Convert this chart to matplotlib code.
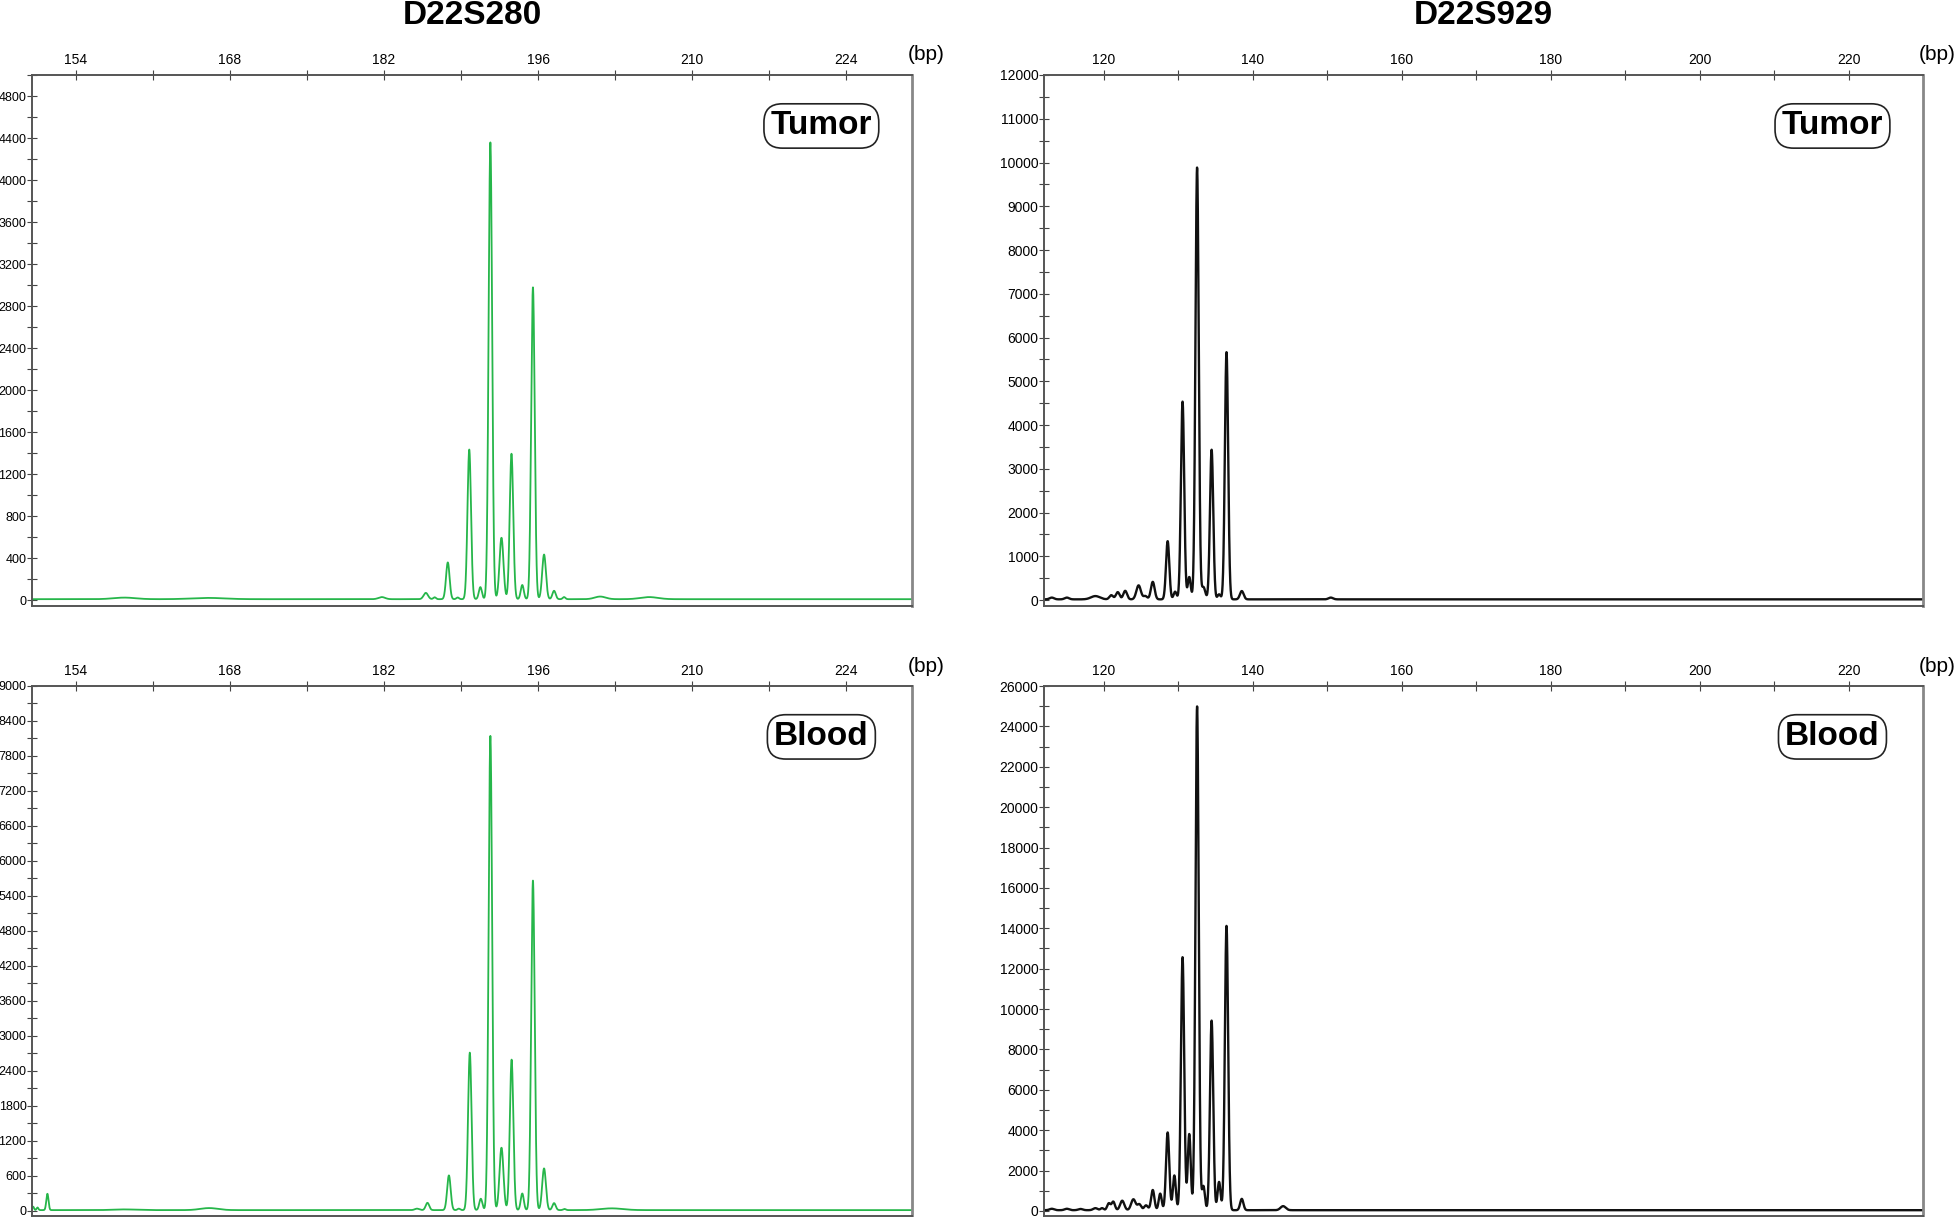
import numpy as np
import matplotlib
matplotlib.use('Agg')
import matplotlib.pyplot as plt
from matplotlib.ticker import MultipleLocator

plt.rcParams['font.family'] = ['Liberation Sans', 'DejaVu Sans']

# peak positions (bp), heights (RFU), widths (bp)
# D22S280 tumor
tl_pos = [158.4, 166.0, 181.8, 185.8, 186.6, 187.8, 188.7, 189.75, 190.76, 191.67, 192.68,
          193.59, 194.57, 195.54, 196.55, 197.46, 198.37, 201.65, 206.1]
tl_hgt = [15, 12, 20, 60, 18, 350, 16, 1425, 115, 4350, 585, 1385, 135, 2970, 425, 80, 20, 25, 20]
tl_wid = [1.0, 1.5, 0.3, 0.2, 0.12, 0.16, 0.12, 0.16, 0.14, 0.16, 0.18,
          0.16, 0.14, 0.16, 0.17, 0.15, 0.12, 0.5, 0.8]

# D22S280 blood
bl_pos = [150.1, 150.5, 151.4, 158.4, 166.1, 185.0, 185.95, 187.9, 188.8, 189.8, 190.8,
          191.67, 192.68, 193.6, 194.57, 195.54, 196.55, 197.46, 198.4, 202.7]
bl_hgt = [60, 45, 280, 12, 35, 25, 125, 595, 25, 2700, 195, 8130, 1070, 2580, 285, 5650, 715,
          120, 20, 30]
bl_wid = [0.08, 0.08, 0.1, 1.0, 0.8, 0.2, 0.16, 0.16, 0.12, 0.16, 0.14, 0.16, 0.18, 0.16, 0.14,
          0.16, 0.17, 0.15, 0.12, 1.0]

# D22S929 tumor
tr_pos = [113.05, 115.07, 118.9, 121.03, 121.9, 122.9, 124.7, 125.6, 126.6, 128.6, 129.6,
          130.6, 131.5, 132.55, 133.4, 134.5, 135.5, 136.5, 138.55, 150.5]
tr_hgt = [40, 40, 75, 95, 165, 195, 320, 75, 400, 1330, 175, 4520, 510, 9870, 280, 3420, 115,
          5650, 190, 40]
tr_wid = [0.3, 0.3, 0.6, 0.25, 0.25, 0.25, 0.3, 0.25, 0.25, 0.22, 0.2, 0.22, 0.2, 0.22, 0.25,
          0.22, 0.2, 0.22, 0.25, 0.3]

# D22S929 blood
br_pos = [113.05, 115.07, 116.9, 118.9, 119.8, 120.7, 121.3, 122.5, 124.0, 124.8, 125.7,
          126.6, 127.6, 128.6, 129.5, 130.6, 131.5, 132.55, 133.4, 134.5, 135.5, 136.5, 138.55,
          144.1]
br_hgt = [70, 70, 60, 100, 100, 340, 420, 470, 540, 290, 240, 1000, 820, 3850, 1720, 12530,
          3770, 24950, 1190, 9390, 1400, 14080, 560, 200]
br_wid = [0.3, 0.3, 0.3, 0.3, 0.2, 0.22, 0.22, 0.28, 0.3, 0.25, 0.25, 0.22, 0.2, 0.22, 0.2,
          0.22, 0.2, 0.22, 0.2, 0.22, 0.2, 0.22, 0.22, 0.35]

green = '#26b64a'
black = '#111111'


def trace(x, pos, hgt, wid, base):
    y = np.full_like(x, base)
    for p, h, w in zip(pos, hgt, wid):
        y = y + h * np.exp(-0.5 * ((x - p) / w) ** 2)
    return y


fig = plt.figure(figsize=(19.6, 12.17), dpi=100)
W, H = 1960.0, 1217.0

# (left, right, top, bottom) in pixels
panels = [
    dict(box=(32, 912, 75, 606), pos=tl_pos, hgt=tl_hgt, wid=tl_wid, col=green, lw=1.3,
         xlim=(150, 230), ylim=(-57, 5000), xmaj=14, x0=154, ymaj=400, label='Tumor', base=8,
         ysize=9),
    dict(box=(1044, 1923, 75, 606), pos=tr_pos, hgt=tr_hgt, wid=tr_wid, col=black, lw=1.7,
         xlim=(112, 230), ylim=(-137, 12000), xmaj=20, x0=120, ymaj=1000, label='Tumor', base=15,
         ysize=10),
    dict(box=(32, 912, 686, 1216), pos=bl_pos, hgt=bl_hgt, wid=bl_wid, col=green, lw=1.3,
         xlim=(150, 230), ylim=(-86, 9000), xmaj=14, x0=154, ymaj=600, label='Blood', base=15,
         ysize=9),
    dict(box=(1044, 1923, 686, 1216), pos=br_pos, hgt=br_hgt, wid=br_wid, col=black, lw=1.7,
         xlim=(112, 230), ylim=(-248, 26000), xmaj=20, x0=120, ymaj=2000, label='Blood', base=40,
         ysize=10),
]

for p in panels:
    l, r, t, b = p['box']
    ax = fig.add_axes([l / W, 1 - b / H, (r - l) / W, (b - t) / H])
    x = np.linspace(p['xlim'][0], p['xlim'][1], 12000)
    ax.plot(x, trace(x, p['pos'], p['hgt'], p['wid'], p['base']), color=p['col'], lw=p['lw'])
    xt = np.arange(p['x0'], p['xlim'][1], p['xmaj'])
    xm = np.arange(p['x0'] + p['xmaj'] / 2, p['xlim'][1], p['xmaj'])
    ax.set_xticks(xt)
    ax.set_xticks(xm, minor=True)
    ax.set_xlim(*p['xlim'])
    ax.set_ylim(*p['ylim'])
    ax.yaxis.set_major_locator(MultipleLocator(p['ymaj']))
    ax.yaxis.set_minor_locator(MultipleLocator(p['ymaj'] / 2))
    ax.xaxis.tick_top()
    ax.tick_params(axis='x', which='both', direction='inout', length=7, width=0.8,
                   color='#444444', labelsize=10, pad=2)
    ax.tick_params(axis='y', which='both', direction='inout', length=7, width=0.8,
                   color='#444444', labelsize=p['ysize'], pad=0.5)
    ax.tick_params(axis='x', which='minor', labeltop=False)
    for s in ax.spines.values():
        s.set_color('#555555')
        s.set_linewidth(1.4)
    ax.spines['right'].set_color('#888888')
    ax.spines['right'].set_linewidth(2)
    ax.text(0.897, 0.904, p['label'], transform=ax.transAxes, ha='center', va='center',
            fontsize=24, fontweight='bold',
            bbox=dict(boxstyle='round,pad=0.2,rounding_size=0.55', fc='white',
                      ec='#222222', lw=1.2))
    fig.text((r + 14) / W, 1 - (t - 20) / H, '(bp)', ha='center', va='center', fontsize=15)

fig.text(472 / W, 1 - 15 / H, 'D22S280', ha='center', va='center', fontsize=24,
         fontweight='bold')
fig.text(1483 / W, 1 - 15 / H, 'D22S929', ha='center', va='center', fontsize=24,
         fontweight='bold')

fig.savefig('out.png', dpi=100, facecolor='white')
